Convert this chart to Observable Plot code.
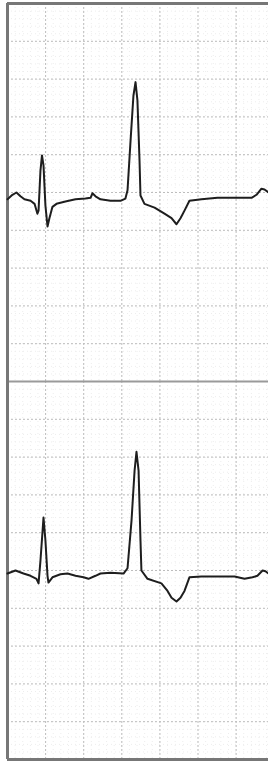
<!DOCTYPE html>
<html>
<head>
<meta charset="utf-8">
<script src="https://cdn.jsdelivr.net/npm/d3@7"></script>
<script src="https://cdn.jsdelivr.net/npm/@observablehq/plot@0.6"></script>
<style>
  html, body { margin: 0; padding: 0; background: #fff; }
  #chart svg { display: block; }
</style>
</head>
<body>
<div id="chart"></div>
<script>
// Lead names (two stacked strips)
const leads = ["I", "II"];

// Upper strip: time (s) and voltage (mV, relative to strip centre)
const time1 = [0, 0.026, 0.047, 0.068, 0.089, 0.121, 0.142, 0.157, 0.163, 0.173, 0.181, 0.189, 0.199, 0.210, 0.220, 0.236, 0.257, 0.304, 0.357, 0.409, 0.436, 0.446, 0.462, 0.488, 0.541, 0.593, 0.619, 0.630, 0.646, 0.661, 0.672, 0.682, 0.693, 0.698, 0.719, 0.772, 0.824, 0.861, 0.887, 0.908, 0.929, 0.955, 1.018, 1.102, 1.281, 1.307, 1.333, 1.349, 1.370];
const volt1 = [-0.09, -0.03, 0.00, -0.05, -0.09, -0.11, -0.15, -0.28, -0.24, 0.29, 0.49, 0.36, -0.17, -0.45, -0.34, -0.19, -0.15, -0.12, -0.09, -0.08, -0.07, -0.01, -0.05, -0.09, -0.11, -0.11, -0.08, 0.03, 0.69, 1.28, 1.46, 1.22, 0.42, -0.04, -0.15, -0.20, -0.28, -0.34, -0.42, -0.34, -0.24, -0.11, -0.09, -0.07, -0.07, -0.03, 0.05, 0.04, 0.00];

// Lower strip
const time2 = [0, 0.042, 0.084, 0.121, 0.152, 0.163, 0.173, 0.189, 0.199, 0.210, 0.215, 0.236, 0.278, 0.315, 0.357, 0.399, 0.425, 0.462, 0.488, 0.541, 0.609, 0.630, 0.651, 0.667, 0.677, 0.688, 0.698, 0.703, 0.735, 0.808, 0.840, 0.861, 0.887, 0.908, 0.929, 0.955, 1.018, 1.192, 1.244, 1.286, 1.312, 1.339, 1.354, 1.370];
const volt2 = [-0.04, 0.00, -0.04, -0.07, -0.11, -0.17, 0.13, 0.70, 0.40, -0.07, -0.16, -0.09, -0.05, -0.04, -0.07, -0.09, -0.11, -0.07, -0.04, -0.03, -0.04, 0.03, 0.66, 1.32, 1.57, 1.32, 0.40, 0.00, -0.11, -0.17, -0.27, -0.36, -0.41, -0.36, -0.27, -0.09, -0.08, -0.08, -0.11, -0.09, -0.07, 0.00, -0.01, -0.04];

const trace = [
  ...time1.map((t, i) => ({lead: leads[0], t, v: volt1[i]})),
  ...time2.map((t, i) => ({lead: leads[1], t, v: volt2[i]}))
];

// ECG paper grid: minor 0.04 s / 0.1 mV, major 0.2 s / 0.5 mV
const xMinor = d3.range(0, 1.3701, 0.04);
const xMajor = d3.range(0, 1.3701, 0.2);
const yMinor = d3.range(-2.5, 2.5001, 0.1);
const yMajor = d3.range(-2.5, 2.5001, 0.5);

const chart = Plot.plot({
  width: 268,
  height: 763,
  marginLeft: 7,
  marginRight: 0,
  marginTop: 3,
  marginBottom: 4,
  x: {domain: [0, 1.37], axis: null},
  y: {domain: [-2.5, 2.5], axis: null},
  fy: {domain: leads, padding: 0, axis: null},
  style: {background: "#fff"},
  marks: [
    Plot.ruleX(xMinor, {stroke: "#ededed", strokeDasharray: "1,3"}),
    Plot.ruleY(yMinor, {stroke: "#ededed", strokeDasharray: "1,3"}),
    Plot.ruleX(xMajor, {stroke: "#bdbdbd", strokeDasharray: "2,2"}),
    Plot.ruleY(yMajor, {stroke: "#bdbdbd", strokeDasharray: "2,2"}),
    Plot.ruleY([{lead: leads[0], y: -2.5}], {y: "y", fy: "lead", stroke: "#9a9a9a", strokeWidth: 2.2}),
    Plot.ruleY([{lead: leads[0], y: 2.5}, {lead: leads[1], y: -2.5}], {y: "y", fy: "lead", stroke: "#777", strokeWidth: 3}),
    Plot.ruleX([0], {stroke: "#777", strokeWidth: 3}),
    Plot.line(trace, {x: "t", y: "v", fy: "lead", stroke: "#1e1e1e", strokeWidth: 2, strokeLinejoin: "round", strokeLinecap: "round"})
  ]
});
document.getElementById("chart").append(chart);
</script>
</body>
</html>
